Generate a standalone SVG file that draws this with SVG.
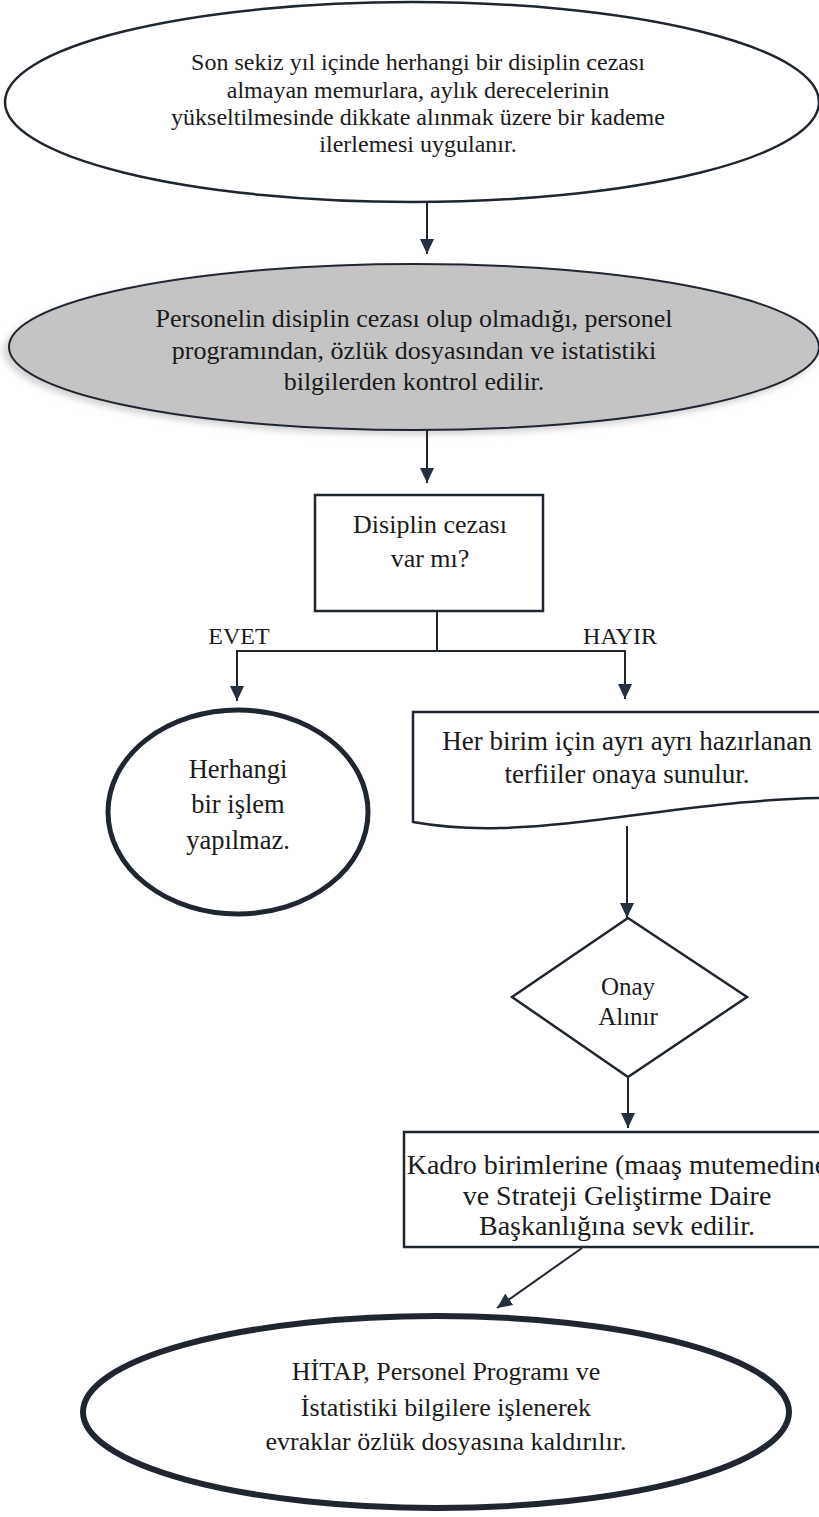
<svg xmlns="http://www.w3.org/2000/svg" width="819" height="1517" viewBox="0 0 819 1517">
<style>
.t{font-family:"Liberation Serif","Times New Roman",serif;fill:#1a1a1a;text-anchor:middle}
.s{fill:#fff;stroke:#1f2630}
.c{fill:none;stroke:#1f2630;stroke-width:2}
</style>
<defs>
<marker id="ah" viewBox="0 0 15 14" refX="15" refY="7" markerWidth="15" markerHeight="14" markerUnits="userSpaceOnUse" orient="auto">
<path d="M0,0 L15,7 L0,14 Z" fill="#253040"/>
</marker>
<filter id="blur" x="-10%" y="-20%" width="120%" height="140%">
<feGaussianBlur stdDeviation="3"/>
</filter>
</defs>
<rect width="819" height="1517" fill="#fff"/>

<g id="n1">
<ellipse class="s" cx="412" cy="102" rx="407" ry="100" stroke-width="2.5"/>
<text class="t" font-size="24" x="418" y="70">Son sekiz yıl içinde herhangi bir disiplin cezası</text>
<text class="t" font-size="24" x="418" y="98">almayan memurlara, aylık derecelerinin</text>
<text class="t" font-size="24" x="418" y="125">yükseltilmesinde dikkate alınmak üzere bir kademe</text>
<text class="t" font-size="24" x="418" y="152">ilerlemesi uygulanır.</text>
</g>

<g id="n2">
<ellipse cx="410" cy="351" rx="407" ry="84" fill="#d4d4d4" filter="url(#blur)"/>
<ellipse cx="414" cy="347" rx="405" ry="83" fill="#c4c4c4" stroke="#1f2630" stroke-width="2"/>
<text class="t" font-size="26" x="414" y="327">Personelin disiplin cezası olup olmadığı, personel</text>
<text class="t" font-size="26" x="414" y="359">programından, özlük dosyasından ve istatistiki</text>
<text class="t" font-size="26" x="414" y="390">bilgilerden kontrol edilir.</text>
</g>

<g id="n3">
<rect class="s" x="315" y="495" width="228" height="116" stroke-width="2.5"/>
<text class="t" font-size="26" x="430" y="533">Disiplin cezası</text>
<text class="t" font-size="26" x="430" y="567">var mı?</text>
</g>

<g id="n4">
<ellipse class="s" cx="238" cy="812" rx="130" ry="102" stroke-width="5"/>
<text class="t" font-size="26.5" x="238" y="778">Herhangi</text>
<text class="t" font-size="26.5" x="238" y="813">bir işlem</text>
<text class="t" font-size="26.5" x="238" y="849">yapılmaz.</text>
</g>

<g id="n5">
<path class="s" stroke-width="2.5" d="M413,712 L845,712 L845,798 C720,796 600,826 500,828 C460,829 435,826 413,822 Z"/>
<text class="t" font-size="27" x="627" y="750">Her birim için ayrı ayrı hazırlanan</text>
<text class="t" font-size="27" x="627" y="783">terfiiler onaya sunulur.</text>
</g>

<g id="n6">
<path class="s" stroke-width="2.5" d="M628,918 L747,997 L628,1077 L512,997 Z"/>
<text class="t" font-size="25" x="628" y="995">Onay</text>
<text class="t" font-size="25" x="628" y="1025">Alınır</text>
</g>

<g id="n7">
<rect class="s" x="404" y="1132" width="440" height="115" stroke-width="2.5"/>
<text class="t" font-size="28" x="617" y="1174">Kadro birimlerine (maaş mutemedine</text>
<text class="t" font-size="28" x="617" y="1205">ve Strateji Geliştirme Daire</text>
<text class="t" font-size="28" x="617" y="1235">Başkanlığına sevk edilir.</text>
</g>

<g id="n8">
<ellipse class="s" cx="436" cy="1412" rx="353" ry="96" stroke-width="6"/>
<text class="t" font-size="26" x="446" y="1380">HİTAP, Personel Programı ve</text>
<text class="t" font-size="26" x="446" y="1416">İstatistiki bilgilere işlenerek</text>
<text class="t" font-size="26" x="446" y="1450">evraklar özlük dosyasına kaldırılır.</text>
</g>

<g id="labels">
<text class="t" font-size="24" x="239" y="644">EVET</text>
<text class="t" font-size="24" x="620" y="644">HAYIR</text>
</g>

<g id="connectors">
<line class="c" x1="427" y1="203" x2="427" y2="254" marker-end="url(#ah)"/>
<line class="c" x1="427" y1="430" x2="427" y2="483" marker-end="url(#ah)"/>
<polyline class="c" points="437,611 437,651"/>
<polyline class="c" points="237,651 625,651"/>
<line class="c" x1="237" y1="650" x2="237" y2="701" marker-end="url(#ah)"/>
<line class="c" x1="625" y1="650" x2="625" y2="699" marker-end="url(#ah)"/>
<line class="c" x1="627" y1="826" x2="627" y2="918" marker-end="url(#ah)"/>
<line class="c" x1="628" y1="1077" x2="628" y2="1128" marker-end="url(#ah)"/>
<line class="c" x1="582" y1="1248" x2="497" y2="1308" marker-end="url(#ah)"/>
</g>
</svg>
